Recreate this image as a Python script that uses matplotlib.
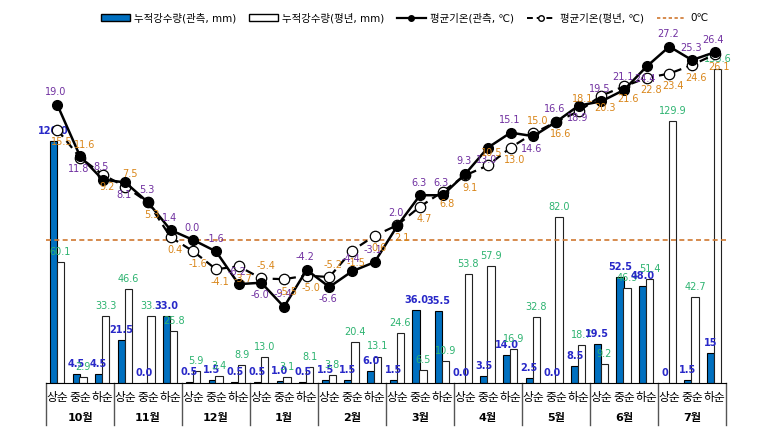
import matplotlib
matplotlib.use("Agg")
import matplotlib.pyplot as plt
from matplotlib.lines import Line2D
from matplotlib.patches import Patch
import numpy as np

plt.rcParams['font.family'] = ['DejaVu Sans', 'Noto Sans CJK KR']

months = ['10월', '11월', '12월', '1월', '2월', '3월', '4월', '5월', '6월', '7월']
dekads = ['상순', '중순', '하순']

# 누적강수량 (mm)
rain_obs = [120.0, 4.5, 4.5, 21.5, 0.0, 33.0, 0.5, 1.5, 0.5, 0.5, 1.0, 0.5,
            1.5, 1.5, 6.0, 1.5, 36.0, 35.5, 0.0, 3.5, 14.0, 2.5, 0.0, 8.5,
            19.5, 52.5, 48.0, 0, 1.5, 15]
rain_norm = [60.1, 2.9, 33.3, 46.6, 33.3, 25.8, 5.9, 3.4, 8.9, 13.0, 3.1, 8.1,
             3.8, 20.4, 13.1, 24.6, 6.5, 10.9, 53.8, 57.9, 16.9, 32.8, 82.0, 18.7,
             9.2, 46.9, 51.4, 129.9, 42.7, 155.6]
rain_obs_txt = ['120.0', '4.5', '4.5', '21.5', '0.0', '33.0', '0.5', '1.5', '0.5',
                '0.5', '1.0', '0.5', '1.5', '1.5', '6.0', '1.5', '36.0', '35.5',
                '0.0', '3.5', '14.0', '2.5', '0.0', '8.5', '19.5', '52.5', '48.0',
                '0', '1.5', '15']

# 평균기온 (℃)
temp_obs = [19.0, 11.8, 8.5, 8.1, 5.3, 1.4, 0.0, -1.6, -6.2, -6.0, -9.4, -4.2,
            -6.6, -4.4, -3.1, 2.0, 6.3, 6.3, 9.3, 13.0, 15.1, 14.6, 16.6, 18.9,
            19.5, 21.1, 24.4, 27.2, 25.3, 26.4]
temp_norm = [15.5, 11.6, 9.2, 7.5, 5.3, 0.4, -1.6, -4.1, -3.7, -5.4, -5.5, -5.0,
             -5.2, -1.5, 0.6, 2.1, 4.7, 6.8, 9.1, 10.5, 13.0, 15.0, 16.6, 18.1,
             20.3, 21.6, 22.8, 23.4, 24.6, 26.1]

# label side: 1 above, -1 below
obs_side = [1, -1, 1, -1, 1, 1, 1, 1, 1, -1, 1, 1, -1, 1, 1, 1, 1, 1, 1, -1,
            1, -1, 1, -1, 1, 1, -1, 1, 1, 1]
norm_side = [-1, 1, -1, 1, -1, -1, -1, -1, -1, 1, -1, -1, 1, -1, -1, -1, -1, -1,
             -1, 1, -1, 1, -1, 1, -1, -1, -1, -1, -1, -1]

x = np.arange(len(rain_obs))
w = 0.31

fig = plt.figure(figsize=(7.63, 4.45), dpi=100)
ax = fig.add_axes([0.0603, 0.1393, 0.8912, 0.7944])
ax2 = ax.twinx()

ax.bar(x - 0.176, rain_obs, w, color='#0070C0', edgecolor='black', linewidth=0.8, zorder=2)
ax.bar(x + 0.132, rain_norm, w, color='white', edgecolor='#222222', linewidth=0.8, zorder=2)
for i in range(len(x)):
    ax.text(x[i] - 0.176, rain_obs[i] + 2.5, rain_obs_txt[i], ha='center', va='bottom',
            fontsize=7, color='#2828C8', fontweight='bold', zorder=5)
    ax.text(x[i] + 0.132, rain_norm[i] + 2.5, '%.1f' % rain_norm[i], ha='center', va='bottom',
            fontsize=7, color='#2DB370', zorder=5)

ax.set_xlim(-0.5, len(x) - 0.5)
ax.set_ylim(0, 175)
ax2.set_ylim(-20.1, 29.6)

ax2.axhline(0, color='#D07830', linestyle=(0, (3, 2)), linewidth=1.2, zorder=1)
ax2.plot(x, temp_norm, color='black', linestyle=(0, (4, 2.5)), linewidth=1.6,
         marker='o', markersize=7.5, markerfacecolor='white', markeredgecolor='black',
         markeredgewidth=0.9, zorder=3)
ax2.plot(x, temp_obs, color='black', linestyle='-', linewidth=1.8,
         marker='o', markersize=7, markerfacecolor='black', markeredgecolor='black', zorder=4)
for i in range(len(x)):
    ax2.annotate('%.1f' % temp_obs[i], (x[i], temp_obs[i]), xytext=(-1, 9 * obs_side[i]),
                 textcoords='offset points', ha='center', va='center',
                 fontsize=7, color='#7030A0', zorder=6)
    ax2.annotate('%.1f' % temp_norm[i], (x[i], temp_norm[i]), xytext=(3, 9 * norm_side[i]),
                 textcoords='offset points', ha='center', va='center',
                 fontsize=7, color='#D9861A', zorder=6)

for a in (ax, ax2):
    for s in a.spines.values():
        s.set_visible(False)
    a.set_yticks([])
ax.set_xticks([])
ax.spines['bottom'].set_visible(True)
ax.spines['bottom'].set_color('black')

# category axis
tr = ax.get_xaxis_transform()
for i in range(len(x)):
    ax.text(x[i], -0.042, dekads[i % 3], transform=tr, ha='center', va='center', fontsize=8.5)
for m in range(len(months)):
    ax.text(3 * m + 1, -0.098, months[m], transform=tr, ha='center', va='center',
            fontsize=8, fontweight='bold')
for m in range(len(months) + 1):
    ax.plot([3 * m - 0.5, 3 * m - 0.5], [0, -0.12], transform=tr, color='#555555',
            linewidth=1, clip_on=False)

handles = [
    Patch(facecolor='#0070C0', edgecolor='black', label='누적강수량(관측, mm)'),
    Patch(facecolor='white', edgecolor='black', label='누적강수량(평년, mm)'),
    Line2D([], [], color='black', lw=1.6, marker='o', markersize=4, label='평균기온(관측, ℃)'),
    Line2D([], [], color='black', lw=1.4, ls=(0, (3, 2)), marker='o', markersize=4,
           markerfacecolor='white', label='평균기온(평년, ℃)'),
    Line2D([], [], color='#D07830', lw=1.2, ls=(0, (2, 1.5)), label='0℃'),
]
fig.legend(handles=handles, loc='center', bbox_to_anchor=(0.53, 0.96), ncol=5,
           frameon=False, fontsize=7.5, handlelength=2.8, handleheight=0.6,
           columnspacing=1.2, handletextpad=0.4)

fig.savefig('out.png', dpi=100)
